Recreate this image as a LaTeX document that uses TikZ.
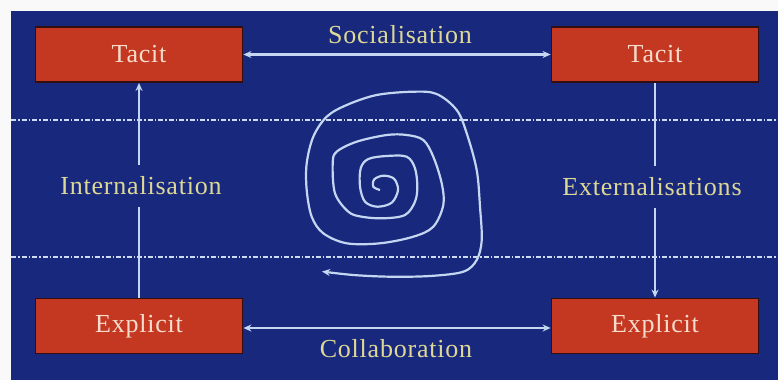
\documentclass[tikz,border=0pt]{standalone}
\usepackage{fontspec}
\setmainfont{Liberation Serif}[LetterSpace=3]
\usetikzlibrary{arrows.meta}
\definecolor{bgblue}{RGB}{24,40,124}
\definecolor{boxred}{RGB}{196,56,34}
\definecolor{boxedge}{RGB}{50,14,14}
\definecolor{linecol}{RGB}{196,214,242}
\definecolor{labcol}{RGB}{222,216,150}
\definecolor{boxtext}{RGB}{246,220,204}
\tikzset{
  kbox/.style={draw=boxedge, line width=1.8pt, fill=boxred, minimum width=207pt, minimum height=55pt, inner sep=0pt, text=boxtext, font=\fontsize{26}{29}\selectfont},
  klabel/.style={text=labcol, font=\fontsize{26}{29}\selectfont, inner xsep=2pt, inner ysep=12pt},
  conn/.style={draw=linecol, line width=2.4pt},
  tip/.style={-{Stealth[length=8pt,width=7pt]}},
  dtip/.style={{Stealth[length=8pt,width=7pt]}-{Stealth[length=8pt,width=7pt]}},
  guide/.style={draw=linecol!85!white, line width=1.3pt, dash pattern=on 5pt off 2pt on 1.5pt off 2pt}
}
\begin{document}
\begin{tikzpicture}[x=1pt,y=-1pt]
\useasboundingbox (0,0) rectangle (778,380);
\fill[white!95!gray] (0,0) rectangle (778,380);
\fill[bgblue] (11,11) rectangle (778,380);
% guide lines
\draw[guide] (11,120) -- (778,120);
\draw[guide] (11,257) -- (778,257);
% boxes
\node[kbox] (tl) at (139,54.5) {Tacit};
\node[kbox] (tr) at (655,54.5) {Tacit};
\node[kbox] (bl) at (139,326) {Explicit};
\node[kbox] (br) at (655,326) {Explicit};
% labels
\node[klabel] (soc) at (400,35) {Socialisation};
\node[klabel] (col) at (396,349) {Collaboration};
\node[klabel] (intl) at (141,186) {Internalisation};
\node[klabel] (extl) at (652,187) {Externalisations};
% horizontal connectors
\draw[conn,dtip] (tl.east) -- (tr.west);
\draw[conn,dtip] ([yshift=-2pt]bl.east) -- ([yshift=-2pt]br.west);
% vertical connectors
\draw[conn] (bl.north) -- (bl.north |- intl.south);
\draw[conn,tip] (tl.south |- intl.north) -- (tl.south);
\draw[conn] (tr.south) -- (tr.south |- extl.north);
\draw[conn,tip] (tr.south |- extl.south) -- (br.north);
% spiral
\draw[conn,line width=2.2pt,-{Stealth[length=8pt,width=7pt]}] plot[smooth,tension=0.55] coordinates {
(380,190) (373.3,186.7) (374.3,179.3) (383.3,175.7) (394,178.7) (398,190)
(391.7,202.7) (377.3,206.7) (365,201.7) (360,186.7) (360.7,168.3) (368.3,159)
(386.7,156) (406.7,156.7) (415,168.3) (417.3,186.7) (415,201.7) (405,215)
(383.3,218.3) (361.7,216.7) (348.3,211.7) (335,193.3) (332.7,163.3) (336.7,151.7)
(356.7,141.7) (386.7,135) (406.7,135) (423.3,140) (433.3,156.7) (441.7,183.3)
(443.3,205) (433.3,226.7) (413.3,236.7) (380,243.3) (346.7,243.3) (323.3,233.3)
(311.7,216.7) (306.7,190) (306.7,163.3) (313.3,136.7) (326.7,116.7) (346.7,105)
(376.7,95) (413.3,91.7) (436.7,94) (456.7,110) (466.7,133.3) (476.7,170)
(480,206.7) (481.7,240) (476.7,260) (463.3,271.7) (430,276) (390,276.7)
(353.3,275) (322,271.5)};
\end{tikzpicture}
\end{document}
